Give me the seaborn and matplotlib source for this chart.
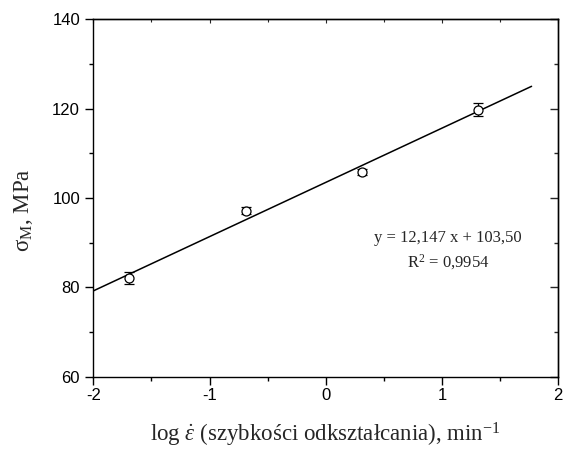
import matplotlib
matplotlib.use("Agg")
import matplotlib.pyplot as plt
import seaborn as sns
import pandas as pd

# Measured points: log strain rate vs. stress
log_rate = [-1.69, -0.69, 0.31, 1.31]
sigma_m = [82.1, 97.2, 105.8, 119.8]
sigma_err = [1.3, 0.7, 0.6, 1.5]

# Linear fit reported on the chart
slope = 12.147
intercept = 103.50
r_squared = "0,9954"
fit_x = [-2.0, 1.77]

x_ticks = [-2, -1, 0, 1, 2]
y_ticks = [60, 80, 100, 120, 140]

sns.set_theme(style="ticks")
plt.rcParams["font.family"] = ["Liberation Sans", "DejaVu Sans"]
plt.rcParams["mathtext.fontset"] = "custom"
plt.rcParams["mathtext.rm"] = "Liberation Serif"
plt.rcParams["mathtext.it"] = "Liberation Serif:italic"
plt.rcParams["mathtext.bf"] = "Liberation Serif:bold"

df = pd.DataFrame({"x": log_rate, "y": sigma_m, "err": sigma_err})
fit_df = pd.DataFrame({"x": fit_x, "y": [slope * v + intercept for v in fit_x]})

fig = plt.figure(figsize=(5.66, 4.51), dpi=100)
ax = fig.add_axes([0.1648, 0.1647, 0.8216, 0.7925])

sns.lineplot(data=fit_df, x="x", y="y", ax=ax, color="black", linewidth=1.1)
ax.errorbar(df["x"], df["y"], yerr=df["err"], fmt="none", ecolor="black",
            elinewidth=0.9, capsize=3.5, capthick=0.9, zorder=3)
sns.scatterplot(data=df, x="x", y="y", ax=ax, marker="o", s=42,
                facecolor="white", edgecolor="black", linewidth=0.9, zorder=4)

ax.set_xlim(-2, 2)
ax.set_ylim(60, 140)
ax.set_xticks(x_ticks)
ax.set_yticks(y_ticks)
ax.set_xticks([-1.5, -0.5, 0.5, 1.5], minor=True)
ax.set_yticks([70, 90, 110, 130], minor=True)
ax.set_xticklabels([str(t) for t in x_ticks])
ax.set_yticklabels([str(t) for t in y_ticks])

for s in ax.spines.values():
    s.set_visible(True)
    s.set_linewidth(1.0)
    s.set_color("black")

ax.tick_params(which="major", direction="out", length=6, width=1.0,
               labelsize=12, colors="black", pad=2)
ax.tick_params(which="minor", direction="out", length=3, width=1.0, colors="black")
ax.tick_params(axis="y", which="major", pad=3.5)

# inward ticks on the right and top frame
ax_r = ax.secondary_yaxis("right")
ax_r.set_yticks(y_ticks)
ax_r.set_yticks([70, 90, 110, 130], minor=True)
ax_r.tick_params(which="major", direction="in", length=6, width=1.0, labelright=False)
ax_r.tick_params(which="minor", direction="in", length=3, width=1.0)
ax_r.spines["right"].set_linewidth(1.0)
ax_t = ax.secondary_xaxis("top")
ax_t.set_xticks(x_ticks)
ax_t.set_xticks([-1.5, -0.5, 0.5, 1.5], minor=True)
ax_t.tick_params(which="major", direction="in", length=3, width=0.8, labeltop=False)
ax_t.tick_params(which="minor", direction="in", length=2, width=0.8)
ax_t.spines["top"].set_linewidth(1.0)

serif = ["Liberation Serif", "DejaVu Serif"]
ax.set_xlabel(r"log $\dot{\varepsilon}$ (szybkości odkształcania), min$^{-1}$",
              fontsize=16.5, family=serif, labelpad=13)
ax.set_ylabel(r"σ$_{\mathrm{M}}$, MPa", fontsize=16.5, family=serif)
ax.yaxis.set_label_coords(-0.125, 0.466)

ax.text(1.05, 91.0, f"y = {slope:.3f} x + {intercept:.2f}".replace(".", ","),
        ha="center", va="center", fontsize=12, family=serif)
ax.text(1.05, 85.7, r"R$^2$ = " + r_squared,
        ha="center", va="center", fontsize=12, family=serif)

fig.savefig("out.png", dpi=100, facecolor="white")
